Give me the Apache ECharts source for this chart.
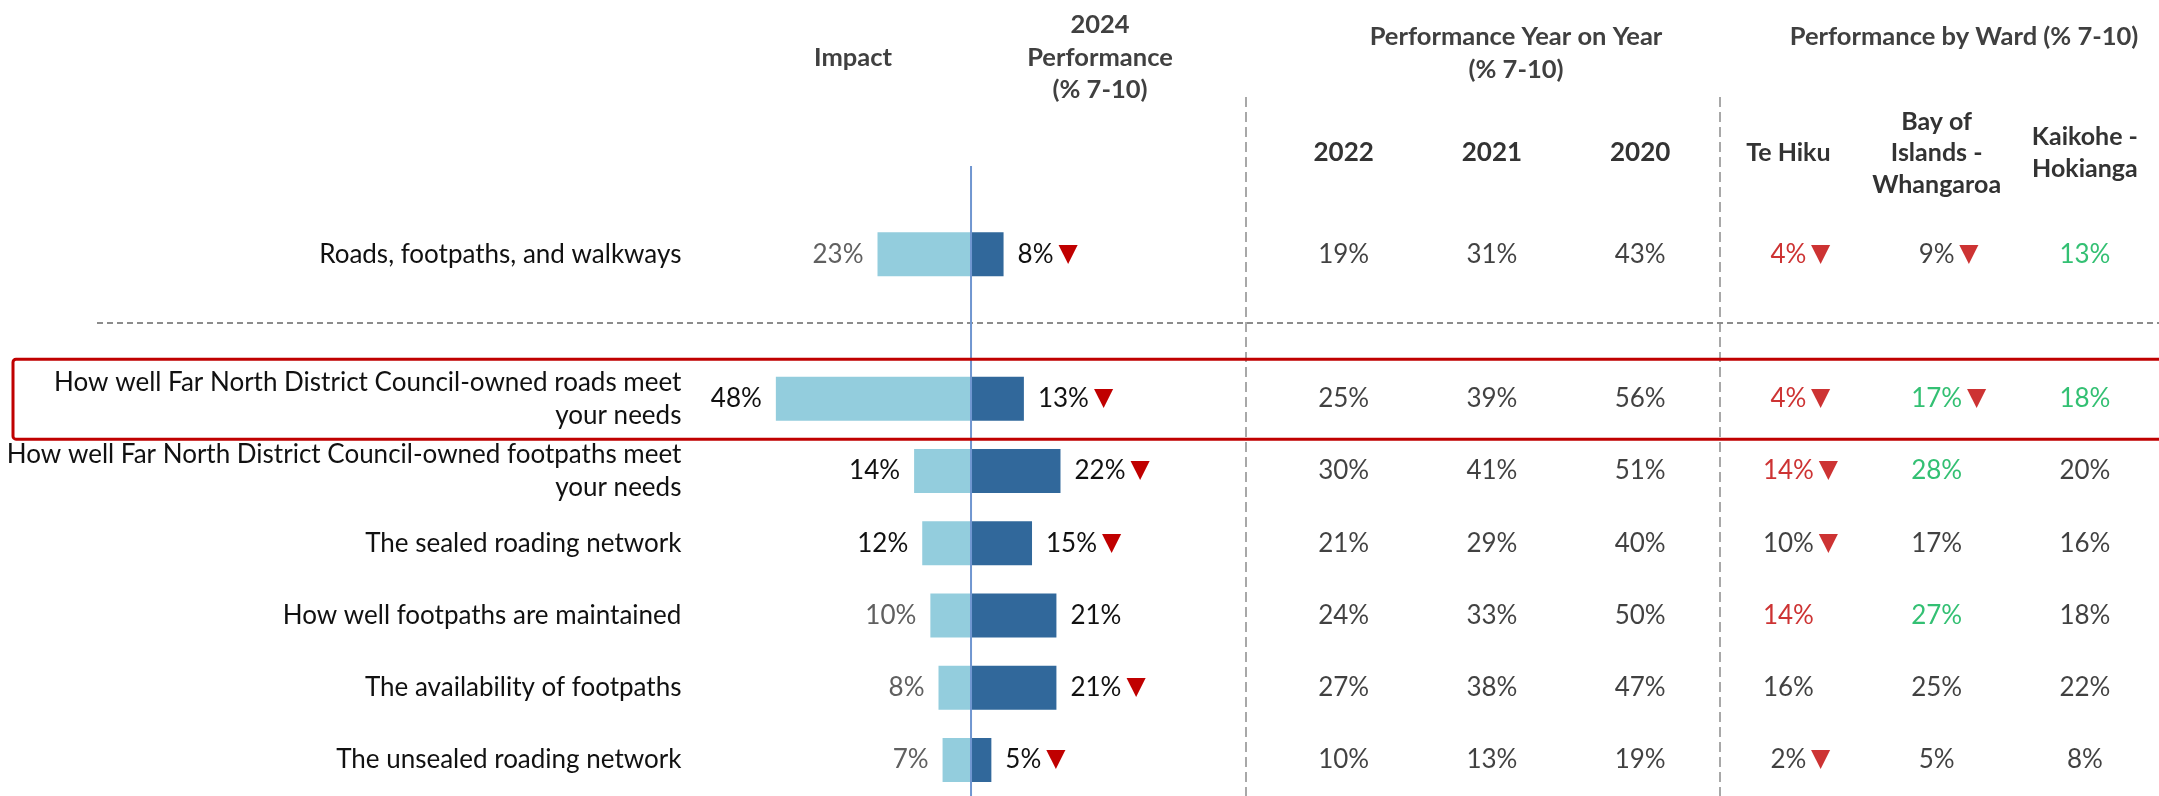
<!DOCTYPE html>
<html>
<head>
<meta charset="utf-8">
<title>Roads, footpaths and walkways - performance</title>
<script src="https://cdn.jsdelivr.net/npm/echarts@6/dist/echarts.min.js"></script>
<style>
  html, body { margin: 0; padding: 0; background: #fff; }
  #chart { width: 2159px; height: 796px; }
</style>
</head>
<body>
<div id="chart"></div>
<script>
// rows (blank row is the gap under the dashed separator)
var rows = [
  'Roads, footpaths, and walkways',
  '',
  'How well Far North District Council-owned roads meet\nyour needs',
  'How well Far North District Council-owned footpaths meet\nyour needs',
  'The sealed roading network',
  'How well footpaths are maintained',
  'The availability of footpaths',
  'The unsealed roading network'
];
var impact = [23, null, 48, 14, 12, 10, 8, 7];
var impactStrong = [false, null, true, true, true, false, false, false];
var perf2024 = [8, null, 13, 22, 15, 21, 21, 5];
var perf2024Down = [true, null, true, true, true, false, true, true];

var columns = ['2022', '2021', '2020', 'Te Hiku', 'Bay of\nIslands -\nWhangaroa', 'Kaikohe -\nHokianga'];
var y2022 = [19, null, 25, 30, 21, 24, 27, 10];
var y2021 = [31, null, 39, 41, 29, 33, 38, 13];
var y2020 = [43, null, 56, 51, 40, 50, 47, 19];
var teHiku = [4, null, 4, 14, 10, 14, 16, 2];
var bayOfIslands = [9, null, 17, 28, 17, 27, 25, 5];
var kaikohe = [13, null, 18, 20, 16, 18, 22, 8];
// 'lo' = significantly lower (red), 'hi' = significantly higher (green)
var teHikuSig = ['lo', null, 'lo', 'lo', '', 'lo', '', ''];
var teHikuDown = [true, null, true, true, true, false, false, true];
var bayOfIslandsSig = ['', null, 'hi', 'hi', '', 'hi', '', ''];
var bayOfIslandsDown = [true, null, true, false, false, false, false, false];
var kaikoheSig = ['hi', null, 'hi', '', '', '', '', ''];

var FONT = 'Lato, "Open Sans", sans-serif';
var FS = 26;
var TEXT = '#111111';
var RED = '#C00000';
var GREEN = '#00B050';

var chart = echarts.init(document.getElementById('chart'));

function tableSeries(col, values, sig, down) {
  var data = [];
  values.forEach(function (v, r) {
    if (v == null) return;
    data.push({ value: [col, r], num: v, sig: sig ? sig[r] : '', down: down ? down[r] : false });
  });
  return {
    type: 'scatter',
    xAxisIndex: 1,
    yAxisIndex: 1,
    symbolSize: 0,
    silent: true,
    data: data,
    label: {
      show: true,
      position: 'inside',
      formatter: function (p) {
        var d = p.data;
        var st = d.sig === 'lo' ? 'lo' : d.sig === 'hi' ? 'hi' : 'v';
        var s = '{' + st + '|' + d.num + '%}';
        if (d.down) s = '{pad|}' + s + '{t|▼}';
        return s;
      },
      rich: {
        v: { fontFamily: FONT, fontSize: FS, color: TEXT },
        lo: { fontFamily: FONT, fontSize: FS, color: RED },
        hi: { fontFamily: FONT, fontSize: FS, color: GREEN },
        pad: { width: 24 },
        t: { fontFamily: 'DejaVu Sans', fontSize: 25, color: RED, width: 24, align: 'right' }
      }
    }
  };
}

var option = {
  animation: false,
  backgroundColor: '#ffffff',
  textStyle: { fontFamily: FONT },
  grid: [
    { left: 686.4, top: 218, width: 528.6, height: 589.6 },
    { left: 1269.5, top: 218, width: 905.4, height: 589.6 }
  ],
  xAxis: [
    { type: 'value', gridIndex: 0, min: -70, max: 60, show: false },
    {
      type: 'category', gridIndex: 1, data: columns, position: 'top',
      axisLine: { show: false }, axisTick: { show: false }, splitLine: { show: false },
      axisLabel: {
        interval: 0, margin: 65, verticalAlign: 'middle',
        formatter: function (v) {
          var style = /^\d+$/.test(v) ? 'yr' : 'wd';
          return v.split('\n').map(function (l) { return '{' + style + '|' + l + '}'; }).join('\n');
        },
        rich: {
          yr: { fontFamily: FONT, fontSize: 26, fontWeight: 'bold', color: '#333333', lineHeight: 32 },
          wd: { fontFamily: FONT, fontSize: 25, fontWeight: 'bold', color: '#333333', lineHeight: 31.5 }
        }
      }
    }
  ],
  yAxis: [
    {
      type: 'category', gridIndex: 0, data: rows, inverse: true,
      axisLine: { show: false }, axisTick: { show: false },
      axisLabel: { fontFamily: FONT, fontSize: FS, color: TEXT, margin: 5, lineHeight: 33 }
    },
    { type: 'category', gridIndex: 1, data: rows, inverse: true, show: false }
  ],
  series: [
    {
      type: 'bar', name: 'Impact', xAxisIndex: 0, yAxisIndex: 0,
      barWidth: 44, barGap: '-100%',
      itemStyle: { color: '#93CDDD' },
      data: impact.map(function (v, i) {
        if (v == null) return null;
        return { value: -v, label: { color: impactStrong[i] ? TEXT : '#606060' } };
      }),
      label: {
        show: true, position: 'left', distance: 14,
        fontFamily: FONT, fontSize: FS,
        formatter: function (p) { return Math.abs(p.value) + '%'; }
      }
    },
    {
      type: 'bar', name: '2024 Performance', xAxisIndex: 0, yAxisIndex: 0,
      barWidth: 44, barGap: '-100%',
      itemStyle: { color: '#31689B' },
      data: perf2024,
      label: {
        show: true, position: 'right', distance: 14,
        formatter: function (p) {
          return '{v|' + p.value + '%}' + (perf2024Down[p.dataIndex] ? '{t|▼}' : '');
        },
        rich: {
          v: { fontFamily: FONT, fontSize: FS, color: TEXT },
          t: { fontFamily: 'DejaVu Sans', fontSize: 25, color: RED, padding: [0, 0, 0, 5] }
        }
      }
    },
    tableSeries(0, y2022),
    tableSeries(1, y2021),
    tableSeries(2, y2020),
    tableSeries(3, teHiku, teHikuSig, teHikuDown),
    tableSeries(4, bayOfIslands, bayOfIslandsSig, bayOfIslandsDown),
    tableSeries(5, kaikohe, kaikoheSig, null)
  ]
};
chart.setOption(option);

// decorations that sit outside the plotting area
var zeroX = chart.convertToPixel({ xAxisIndex: 0 }, 0);
var hiRow = chart.convertToPixel({ yAxisIndex: 0 }, rows[2]);
var headFont = { fontFamily: 'Lato', fontSize: 25.5, fontWeight: 'bold', fill: '#404040', align: 'center', verticalAlign: 'middle' };
function head(x, y, text, lh) {
  return { type: 'text', silent: true, style: Object.assign({ x: x, y: y, text: text, lineHeight: lh || 32.5 }, headFont) };
}
chart.setOption({
  graphic: [
    head(853, 58, 'Impact'),
    head(1100, 57.5, '2024\nPerformance\n(% 7-10)'),
    head(1516, 53.5, 'Performance Year on Year\n(% 7-10)', 33),
    head(1964, 37, 'Performance by Ward (% 7-10)'),
    { type: 'line', silent: true, shape: { x1: 97, y1: 323, x2: 2159, y2: 323 },
      style: { stroke: '#8c8c8c', lineWidth: 2, lineDash: [6, 4] } },
    { type: 'line', silent: true, shape: { x1: 1246, y1: 97, x2: 1246, y2: 796 },
      style: { stroke: '#8c8c8c', lineWidth: 1.5, lineDash: [10, 5] } },
    { type: 'line', silent: true, shape: { x1: 1720, y1: 97, x2: 1720, y2: 796 },
      style: { stroke: '#8c8c8c', lineWidth: 1.5, lineDash: [10, 5] } },
    { type: 'line', silent: true, z: 10, shape: { x1: zeroX, y1: 166, x2: zeroX, y2: 796 },
      style: { stroke: '#7096D0', lineWidth: 2 } },
    { type: 'rect', silent: true, z: 10, shape: { x: 13, y: hiRow - 39.5, width: 2170, height: 80, r: 3 },
      style: { fill: 'none', stroke: RED, lineWidth: 3 } }
  ]
});
</script>
</body>
</html>
